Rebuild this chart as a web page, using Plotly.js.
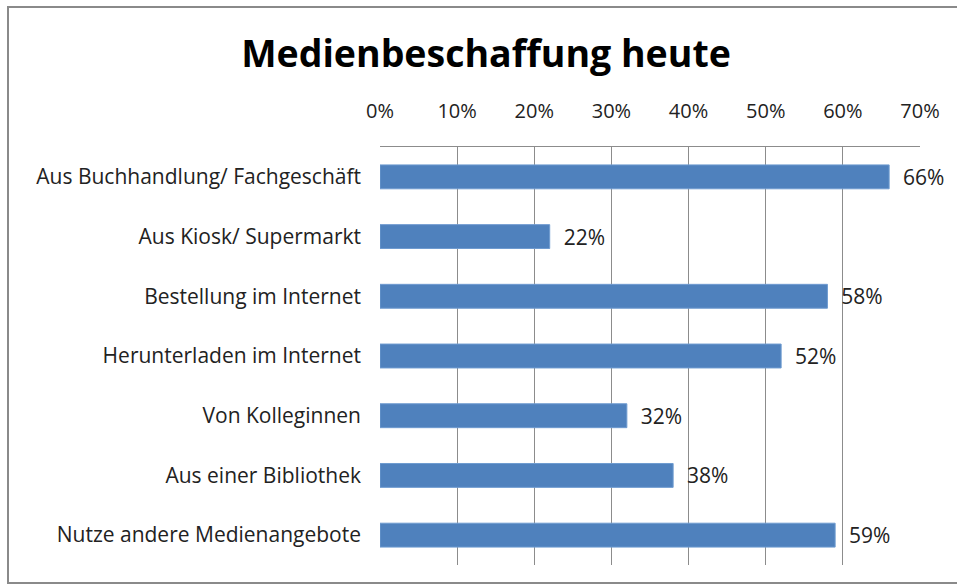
<!DOCTYPE html>
<html>
<head>
<meta charset="utf-8">
<script src="https://cdn.plot.ly/plotly-3.0.1.min.js"></script>
<style>html,body{margin:0;padding:0;background:#fff;}#chart{width:957px;height:586px;}</style>
</head>
<body>
<div id="chart"></div>
<script>
const categories = [
  "Aus Buchhandlung/ Fachgeschäft",
  "Aus Kiosk/ Supermarkt",
  "Bestellung im Internet",
  "Herunterladen im Internet",
  "Von Kolleginnen",
  "Aus einer Bibliothek",
  "Nutze andere Medienangebote"
];
const values = [0.66, 0.22, 0.58, 0.52, 0.32, 0.38, 0.59];
const valueLabels = ["66%", "22%", "58%", "52%", "32%", "38%", "59%"];
const tickValues = [0, 0.1, 0.2, 0.3, 0.4, 0.5, 0.6, 0.7];
const tickLabels = ["0%", "10%", "20%", "30%", "40%", "50%", "60%", "70%"];

const font = "Open Sans, Noto Sans, Liberation Sans, sans-serif";
const W = 957, H = 586, L = 380, R = 37, T = 147, B = 21;
const pw = W - L - R, ph = H - T - B;
const px = v => (v - L) / pw;
const py = v => (H - B - v) / ph;

const trace = {
  type: "bar",
  orientation: "h",
  y: categories,
  x: values,
  text: valueLabels.map(s => "\u00a0\u00a0" + s),
  textposition: "outside",
  constraintext: "none",
  cliponaxis: false,
  textfont: {family: font, size: 21, color: "#222"},
  marker: {color: "#4F81BD", line: {color: "#6f9bd0", width: 1}},
  hoverinfo: "none"
};

const layout = {
  width: W, height: H,
  margin: {l: L, r: R, t: T, b: B, pad: 0},
  paper_bgcolor: "#fff",
  plot_bgcolor: "#fff",
  showlegend: false,
  bargap: 0.6,
  title: {
    text: "<b>Medienbeschaffung heute</b>",
    font: {family: font, size: 37.5, color: "#000"},
    x: 486 / W, xanchor: "center",
    y: 1 - 54 / H, yanchor: "middle"
  },
  xaxis: {
    side: "top",
    range: [0, 0.7],
    tickvals: tickValues,
    ticktext: tickLabels,
    showgrid: true,
    gridcolor: "#8c8c8c",
    gridwidth: 1,
    zeroline: false,
    showline: true,
    linecolor: "#8c8c8c",
    linewidth: 1,
    ticks: "",
    ticklabelstandoff: 20,
    tickfont: {family: font, size: 20, color: "#222"},
    fixedrange: true
  },
  yaxis: {
    autorange: "reversed",
    showgrid: false,
    zeroline: false,
    showline: false,
    ticks: "",
    ticklabelstandoff: 18,
    tickfont: {family: font, size: 21, color: "#222"},
    fixedrange: true
  },
  shapes: [{
    type: "rect", xref: "paper", yref: "paper",
    x0: px(8), x1: px(966), y0: py(583), y1: py(7),
    line: {color: "#8a8a8a", width: 2}, fillcolor: "rgba(0,0,0,0)", layer: "below"
  }]
};

Plotly.newPlot("chart", [trace], layout, {displayModeBar: false, staticPlot: true});
</script>
</body>
</html>
